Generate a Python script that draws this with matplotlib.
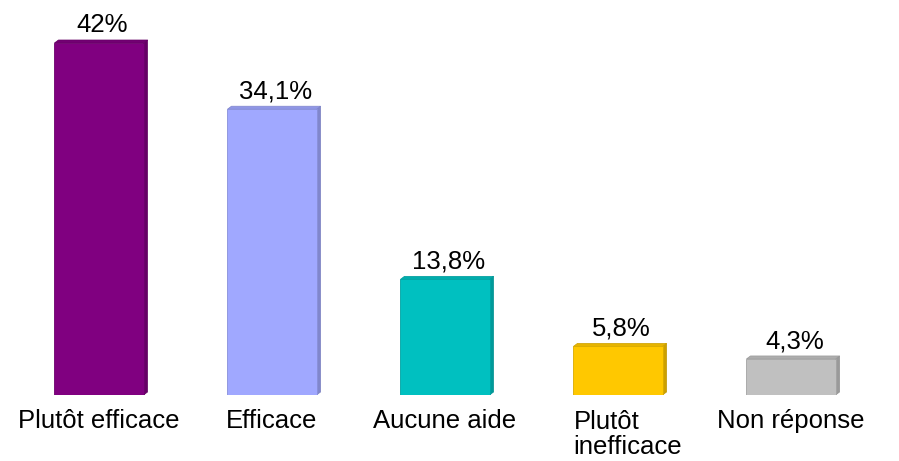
import matplotlib
matplotlib.use("Agg")
import matplotlib.pyplot as plt
from matplotlib.patches import Polygon
from matplotlib.colors import to_rgb

categories = ["Plutôt efficace", "Efficace", "Aucune aide", "Plutôt\ninefficace", "Non réponse"]
values = [42.0, 34.1, 13.8, 5.8, 4.3]
value_labels = ["42%", "34,1%", "13,8%", "5,8%", "4,3%"]
colors = ["#800080", "#A0A8FF", "#00C0C0", "#FFC800", "#C0C0C0"]

plt.rcParams["font.family"] = ["Liberation Sans", "DejaVu Sans"]

W, H = 899, 461
fig = plt.figure(figsize=(W / 100, H / 100), dpi=100)
bottom_px = 66
ax = fig.add_axes([0, bottom_px / H, 1, (H - bottom_px) / H])
spacing_px = 173.0
first_center_px = 99.0
x0 = -first_center_px / spacing_px
ax.set_xlim(x0, x0 + W / spacing_px)
ymax = 42.0 * (H - bottom_px) / 352.0
ax.set_ylim(0, ymax)
ax.axis("off")

width = 0.515
dx = 4.0 / spacing_px              # depth of the side face in x
dy = 3.0 * ymax / (H - bottom_px)  # depth rise in y
fs = 18.5
line_step_pt = 18.7


def shade(c, f):
    r, g, b = to_rgb(c)
    return (r * f, g * f, b * f)


for i, (v, c) in enumerate(zip(values, colors)):
    left = i - width / 2
    right = i + width / 2
    # front face
    ax.add_patch(Polygon([(left, 0), (right, 0), (right, v), (left, v)],
                         closed=True, facecolor=c, edgecolor=shade(c, 0.85),
                         linewidth=0.6, zorder=3))
    # side face
    ax.add_patch(Polygon([(right, 0), (right + dx, dy), (right + dx, v + dy), (right, v)],
                         closed=True, facecolor=shade(c, 0.8), edgecolor=shade(c, 0.75),
                         linewidth=0.5, zorder=2))
    # top face
    ax.add_patch(Polygon([(left, v), (left + dx, v + dy), (right + dx, v + dy), (right, v)],
                         closed=True, facecolor=shade(c, 0.9), edgecolor=shade(c, 0.8),
                         linewidth=0.5, zorder=2))
    ax.annotate(value_labels[i], xy=(i + 0.02, v + dy), xytext=(0, 5.5),
                textcoords="offset points", ha="center", va="baseline",
                fontsize=fs, color="black")
    n_lines = categories[i].count("\n")
    if n_lines:
        # wrapped labels start at the bar's left edge; va="baseline" pins the last line
        ax.annotate(categories[i], xy=(left, 0),
                    xytext=(0, -24 - n_lines * line_step_pt),
                    textcoords="offset points", ha="left", va="baseline",
                    fontsize=fs, color="black", annotation_clip=False,
                    linespacing=1.08)
    else:
        ax.annotate(categories[i], xy=(i, 0), xytext=(0, -24),
                    textcoords="offset points", ha="center", va="baseline",
                    fontsize=fs, color="black", annotation_clip=False)

fig.savefig("out.png", dpi=100)
